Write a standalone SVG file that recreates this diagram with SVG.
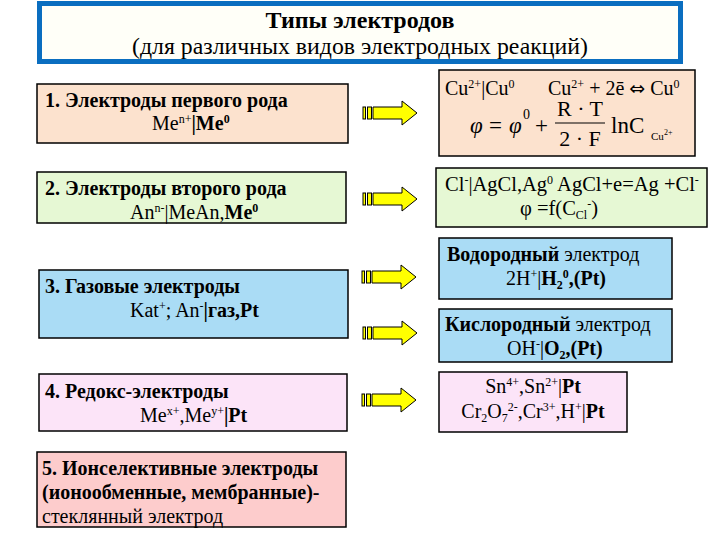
<svg xmlns="http://www.w3.org/2000/svg" xmlns:xlink="http://www.w3.org/1999/xlink" width="720" height="540" viewBox="0 0 720 540" font-family="'Liberation Serif', 'DejaVu Serif', serif">
<style>
text{font-family:'Liberation Serif','DejaVu Serif',serif;fill:#000;}
.h{font-size:20px;font-weight:bold;}
.t{font-size:20px;}
.r{font-size:20.5px;}
.b{font-weight:bold;}
.s{font-size:12px;}
.box{stroke:#000;stroke-width:1.5;}
.peach{fill:#FCE2CE;}
.green{fill:#E6F8D4;}
.blue{fill:#AADCF5;}
.lpink{fill:#FCE4F8;}
.pink{fill:#FDCCCC;}
.arr{fill:#FFFF00;stroke:#000;stroke-width:1;}
</style>
<defs>
<g id="arrow">
<rect class="arr" x="0" y="-6" width="2.5" height="12"/>
<rect class="arr" x="4.5" y="-6" width="4" height="12"/>
<path class="arr" d="M10,-6 H39 V-12 L54,0 L39,12 V6 H10 Z"/>
</g>
</defs>
<rect width="720" height="540" fill="#fff"/>

<g id="title">
<rect x="39.5" y="3.5" width="641" height="58" fill="#FFFFF8" stroke="#0A6EC0" stroke-width="5"/>
<text x="360" y="28" text-anchor="middle" font-size="24" font-weight="bold">Типы электродов</text>
<text x="360" y="54" text-anchor="middle" font-size="23.8">(для различных видов электродных реакций)</text>
</g>

<g id="n1">
<rect class="box peach" x="37" y="84" width="311" height="59"/>
<text class="h" x="45" y="107">1. Электроды первого рода</text>
<text class="t" x="152" y="130">Me<tspan class="s" dy="-7">n+</tspan><tspan class="b" dy="7">|Me</tspan><tspan class="b s" dy="-7">0</tspan></text>
</g>

<g id="n2">
<rect class="box green" x="37" y="172" width="309" height="51"/>
<text class="h" x="45" y="195">2. Электроды второго рода</text>
<text class="t" x="130" y="219">An<tspan class="s" dy="-7">n-</tspan><tspan dy="7">|MeAn,</tspan><tspan class="b">Me</tspan><tspan class="b s" dy="-7">0</tspan></text>
</g>

<g id="n3">
<rect class="box blue" x="39" y="270" width="309" height="68"/>
<text class="h" x="45" y="293">3. Газовые электроды</text>
<text class="t" x="130" y="317">Kat<tspan class="s" dy="-7">+</tspan><tspan dy="7">; An</tspan><tspan class="s" dy="-7">-</tspan><tspan class="b" dy="7">|газ,Pt</tspan></text>
</g>

<g id="n4">
<rect class="box lpink" x="39" y="374" width="308" height="57"/>
<text class="h" x="45" y="398">4. Редокс-электроды</text>
<text class="t" x="140" y="422">Me<tspan class="s" dy="-7">x+</tspan><tspan dy="7">,Me</tspan><tspan class="s" dy="-7">y+</tspan><tspan class="b" dy="7">|Pt</tspan></text>
</g>

<g id="n5">
<rect class="box pink" x="37" y="452" width="309" height="75"/>
<text class="h" x="42" y="475">5. Ионселективные электроды</text>
<text class="h" x="42" y="499">(ионообменные, мембранные)-</text>
<text class="t" x="42" y="523">стеклянный электрод</text>
</g>

<g id="r1">
<rect class="box peach" x="439" y="70" width="256" height="86"/>
<text class="t" x="445" y="95">Cu<tspan class="s" dy="-7">2+</tspan><tspan dy="7">|Cu</tspan><tspan class="s" dy="-7">0</tspan><tspan x="548" dy="7">Cu</tspan><tspan class="s" dy="-7">2+</tspan><tspan dy="7"> + 2ē </tspan><tspan font-family="'DejaVu Sans', sans-serif" font-size="19">⇔</tspan><tspan> Cu</tspan><tspan class="s" dy="-7">0</tspan></text>
<text x="470" y="133" font-size="23" font-style="italic">φ</text>
<text x="489" y="133" font-size="23">=</text>
<text x="509" y="133" font-size="23" font-style="italic">φ</text>
<text x="523" y="119" font-size="14">0</text>
<text x="535" y="133" font-size="23">+</text>
<text x="580" y="116" font-size="22" text-anchor="middle">R · T</text>
<line x1="555" y1="123" x2="605" y2="123" stroke="#000" stroke-width="1.2"/>
<text x="580" y="146" font-size="22" text-anchor="middle">2 · F</text>
<text x="611" y="133" font-size="23">lnC</text>
<text x="651" y="140" font-size="11">Cu</text>
<text x="664" y="135" font-size="8">2+</text>
</g>

<g id="r2">
<rect class="box green" x="436" y="168" width="271" height="59"/>
<text class="r" x="445" y="191">Cl<tspan class="s" dy="-7">-</tspan><tspan dy="7">|AgCl,Ag</tspan><tspan class="s" dy="-7">0</tspan><tspan dy="7">  AgCl+e=Ag +Cl</tspan><tspan class="s" dy="-7">-</tspan></text>
<text class="r" x="520" y="215">φ =f(C<tspan class="s" dy="4">Cl</tspan><tspan class="s" dy="-11">-</tspan><tspan dy="7">)</tspan></text>
</g>

<g id="r3">
<rect class="box blue" x="439" y="238" width="233" height="61"/>
<text class="t" x="447" y="261"><tspan class="b">Водородный</tspan> электрод</text>
<text class="t" x="506" y="285">2H<tspan class="s" dy="-7">+</tspan><tspan dy="7">|</tspan><tspan class="b">H</tspan><tspan class="b s" dy="4">2</tspan><tspan class="b s" dy="-11">0</tspan><tspan class="b" dy="7">,(Pt)</tspan></text>
</g>

<g id="r4">
<rect class="box blue" x="439" y="309" width="233" height="53"/>
<text class="t" x="445" y="331"><tspan class="b">Кислородный</tspan> электрод</text>
<text class="t" x="507" y="355">OH<tspan class="s" dy="-7">-</tspan><tspan dy="7">|</tspan><tspan class="b">O</tspan><tspan class="b s" dy="4">2</tspan><tspan class="b" dy="-4">,(Pt)</tspan></text>
</g>

<g id="r5">
<rect class="box lpink" x="439" y="372" width="188" height="60"/>
<text class="t" x="533" y="393" text-anchor="middle">Sn<tspan class="s" dy="-7">4+</tspan><tspan dy="7">,Sn</tspan><tspan class="s" dy="-7">2+</tspan><tspan dy="7">|</tspan><tspan class="b">Pt</tspan></text>
<text class="t" x="533" y="418" text-anchor="middle">Cr<tspan class="s" dy="4">2</tspan><tspan dy="-4">O</tspan><tspan class="s" dy="4">7</tspan><tspan class="s" dy="-11">2-</tspan><tspan dy="7">,Cr</tspan><tspan class="s" dy="-7">3+</tspan><tspan dy="7">,H</tspan><tspan class="s" dy="-7">+</tspan><tspan dy="7">|</tspan><tspan class="b">Pt</tspan></text>
</g>

<g id="connectors">
<use xlink:href="#arrow" transform="translate(363,113)"/>
<use xlink:href="#arrow" transform="translate(363,199)"/>
<use xlink:href="#arrow" transform="translate(362,277)"/>
<use xlink:href="#arrow" transform="translate(363,333)"/>
<use xlink:href="#arrow" transform="translate(362,400)"/>
</g>
</svg>
